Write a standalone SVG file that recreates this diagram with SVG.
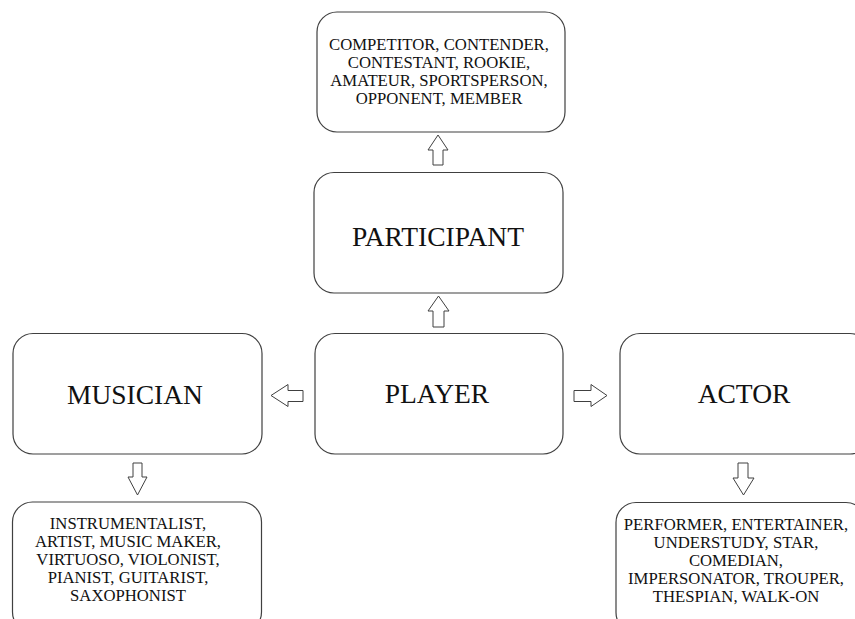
<svg xmlns="http://www.w3.org/2000/svg" width="855" height="619" viewBox="0 0 855 619">
<style>
.box{fill:#fff;stroke:#404040;stroke-width:1.2}
.arr{fill:#fff;stroke:#404040;stroke-width:1}
.big{font-family:"Liberation Serif","Times New Roman",serif;font-size:27.5px;fill:#111;text-anchor:middle}
.sm{font-family:"Liberation Serif","Times New Roman",serif;font-size:16.7px;fill:#111;text-anchor:middle}
</style>
<rect width="855" height="619" fill="#fff"/>
<g id="connectors">
<path class="arr" d="M438,135 L448,150 L443,150 L443,165 L433,165 L433,150 L428,150 Z"/>
<path class="arr" d="M438.5,296 L449,311 L444,311 L444,327 L433,327 L433,311 L428,311 Z"/>
<path class="arr" d="M271,395.5 L288,384.5 L288,390.5 L303,390.5 L303,401.5 L288,401.5 L288,406.5 Z"/>
<path class="arr" d="M607,395.5 L591,384.5 L591,390.5 L574,390.5 L574,401.5 L591,401.5 L591,406.5 Z"/>
<path class="arr" d="M137.5,495 L147,477 L142,477 L142,463 L133,463 L133,477 L128,477 Z"/>
<path class="arr" d="M743.5,495 L754,478 L748,478 L748,463 L738,463 L738,478 L733,478 Z"/>
</g>
<g id="node-top">
<rect class="box" x="317" y="12" width="248" height="120" rx="20"/>
<text class="sm" x="439" y="50">COMPETITOR, CONTENDER,</text>
<text class="sm" x="439" y="68">CONTESTANT, ROOKIE,</text>
<text class="sm" x="439" y="86">AMATEUR, SPORTSPERSON,</text>
<text class="sm" x="439" y="104">OPPONENT, MEMBER</text>
</g>
<g id="node-participant">
<rect class="box" x="314" y="172.5" width="249" height="120.5" rx="20"/>
<text class="big" x="438" y="246">PARTICIPANT</text>
</g>
<g id="node-player">
<rect class="box" x="315" y="333.5" width="248" height="120.5" rx="20"/>
<text class="big" x="437" y="403">PLAYER</text>
</g>
<g id="node-musician">
<rect class="box" x="13" y="333.5" width="249" height="120.5" rx="20"/>
<text class="big" x="135" y="404">MUSICIAN</text>
</g>
<g id="node-actor">
<rect class="box" x="620" y="333.5" width="250" height="120.5" rx="20"/>
<text class="big" x="744" y="403">ACTOR</text>
</g>
<g id="node-musician-list">
<rect class="box" x="12.5" y="502" width="249" height="130" rx="20"/>
<text class="sm" x="128" y="529">INSTRUMENTALIST,</text>
<text class="sm" x="128" y="547">ARTIST, MUSIC MAKER,</text>
<text class="sm" x="128" y="565">VIRTUOSO, VIOLONIST,</text>
<text class="sm" x="128" y="583">PIANIST, GUITARIST,</text>
<text class="sm" x="128" y="601">SAXOPHONIST</text>
</g>
<g id="node-actor-list">
<rect class="box" x="616" y="502.5" width="250" height="130" rx="20"/>
<text class="sm" x="736" y="530">PERFORMER, ENTERTAINER,</text>
<text class="sm" x="736" y="548">UNDERSTUDY, STAR,</text>
<text class="sm" x="736" y="566">COMEDIAN,</text>
<text class="sm" x="736" y="584">IMPERSONATOR, TROUPER,</text>
<text class="sm" x="736" y="602">THESPIAN, WALK-ON</text>
</g>
</svg>
